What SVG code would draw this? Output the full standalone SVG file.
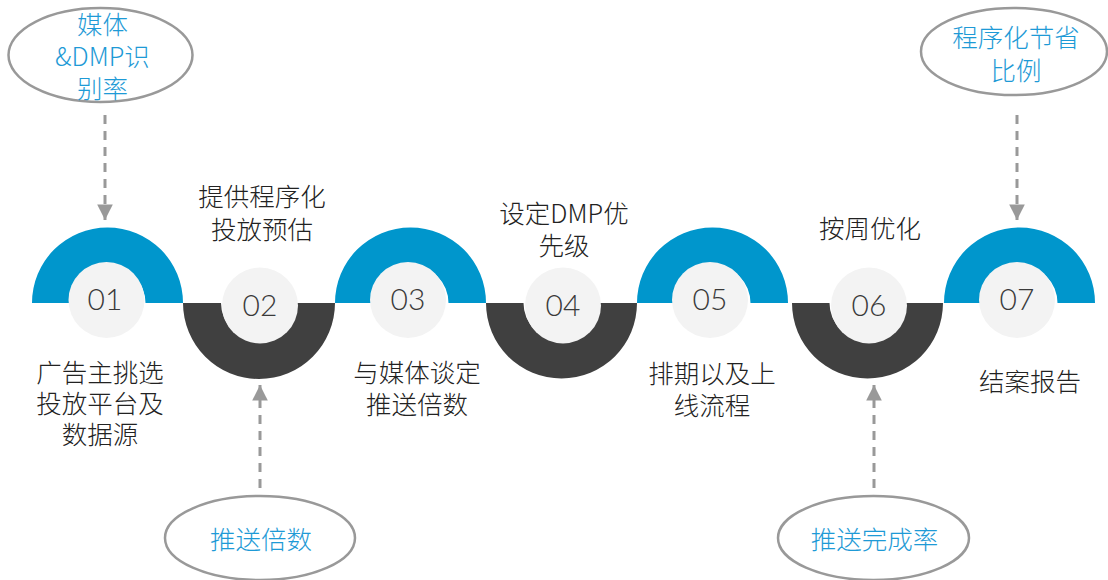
<svg xmlns="http://www.w3.org/2000/svg" width="1108" height="580" viewBox="0 0 1108 580">
<style>
.up{fill:#0096CC}
.dn{fill:#404040}
.core{fill:#F3F3F3}
.num{font-family:"Lato","Liberation Sans",Arial,sans-serif;font-weight:300;font-size:30px;fill:#3a3a3a;text-anchor:middle}
.lbl{font-family:"Noto Sans CJK SC","Liberation Sans",sans-serif;font-weight:300;font-size:25.5px;fill:#222;text-anchor:middle}
.ell{fill:#fff;stroke:#999;stroke-width:2.5}
.etx{font-family:"Noto Sans CJK SC","Liberation Sans",sans-serif;font-weight:300;font-size:25.5px;fill:#1E9AD6;text-anchor:middle}
.dash{stroke:#999;stroke-width:3;stroke-dasharray:9 7;fill:none}
</style>
<defs>
<marker id="ah" viewBox="0 0 10 10" refX="10" refY="5" markerWidth="5.2" markerHeight="5.2" orient="auto" markerUnits="strokeWidth">
<path d="M0,0 L10,5 L0,10 Z" fill="#999"/>
</marker>
</defs>
<rect width="1108" height="580" fill="#fff"/>

<g id="step01">
<path class="up" d="M32,303 A75.5,75.5 0 0 1 183,303 L145.5,303 A38,38 0 0 0 69.5,303 Z"/>
<circle class="core" cx="106.5" cy="300" r="38"/>
<text class="num" x="105" y="310">01</text>
<text class="lbl"><tspan x="100" y="382">广告主挑选</tspan><tspan x="100" y="413">投放平台及</tspan><tspan x="100" y="444">数据源</tspan></text>
</g>
<g id="step02">
<path class="dn" d="M183,303 A76,76 0 0 0 335,303 L297,303 A38,38 0 0 1 221,303 Z"/>
<circle class="core" cx="260" cy="305.5" r="38"/>
<text class="num" x="260" y="316">02</text>
<text class="lbl"><tspan x="262" y="206">提供程序化</tspan><tspan x="262" y="239">投放预估</tspan></text>
</g>
<g id="step03">
<path class="up" d="M335,303 A75.5,75.5 0 0 1 486,303 L448.5,303 A38,38 0 0 0 372.5,303 Z"/>
<circle class="core" cx="408" cy="300" r="38"/>
<text class="num" x="408" y="310">03</text>
<text class="lbl"><tspan x="417" y="382">与媒体谈定</tspan><tspan x="417" y="414">推送倍数</tspan></text>
</g>
<g id="step04">
<path class="dn" d="M486,303 A75.5,75.5 0 0 0 637,303 L599.5,303 A38,38 0 0 1 523.5,303 Z"/>
<circle class="core" cx="563" cy="305.5" r="38"/>
<text class="num" x="563" y="316">04</text>
<text class="lbl"><tspan x="564" y="223">设定DMP优</tspan><tspan x="564" y="255">先级</tspan></text>
</g>
<g id="step05">
<path class="up" d="M637,303 A75.5,75.5 0 0 1 788,303 L750.5,303 A38,38 0 0 0 674.5,303 Z"/>
<circle class="core" cx="710" cy="300" r="38"/>
<text class="num" x="710" y="310">05</text>
<text class="lbl"><tspan x="712" y="383">排期以及上</tspan><tspan x="712" y="415">线流程</tspan></text>
</g>
<g id="step06">
<path class="dn" d="M792,303 A75.5,75.5 0 0 0 943,303 L905.5,303 A38,38 0 0 1 829.5,303 Z"/>
<circle class="core" cx="869" cy="305.5" r="38"/>
<text class="num" x="869" y="316">06</text>
<text class="lbl" x="870" y="238">按周优化</text>
</g>
<g id="step07">
<path class="up" d="M944,303 A75.5,75.5 0 0 1 1095,303 L1057.5,303 A38,38 0 0 0 981.5,303 Z"/>
<circle class="core" cx="1017" cy="300" r="38"/>
<text class="num" x="1017" y="310">07</text>
<text class="lbl" x="1030" y="391">结案报告</text>
</g>

<g id="note-dmp">
<ellipse class="ell" cx="100.5" cy="55" rx="92" ry="47"/>
<text class="etx"><tspan x="102.5" y="34">媒体</tspan><tspan x="102.5" y="66">&amp;DMP识</tspan><tspan x="102.5" y="98">别率</tspan></text>
</g>
<g id="note-push">
<ellipse class="ell" cx="260" cy="538" rx="95" ry="42"/>
<text class="etx" x="261" y="549">推送倍数</text>
</g>
<g id="note-save">
<ellipse class="ell" cx="1014" cy="51.5" rx="93" ry="43.5"/>
<text class="etx"><tspan x="1016" y="47">程序化节省</tspan><tspan x="1016" y="80">比例</tspan></text>
</g>
<g id="note-done">
<ellipse class="ell" cx="873.5" cy="538" rx="95.5" ry="42"/>
<text class="etx" x="874.5" y="549">推送完成率</text>
</g>

<g id="connectors">
<path class="dash" d="M105,115 V220" marker-end="url(#ah)"/>
<path class="dash" d="M1017,115 V220" marker-end="url(#ah)"/>
<path class="dash" d="M260,488 V385" marker-end="url(#ah)"/>
<path class="dash" d="M874,488 V385" marker-end="url(#ah)"/>
</g>
</svg>
